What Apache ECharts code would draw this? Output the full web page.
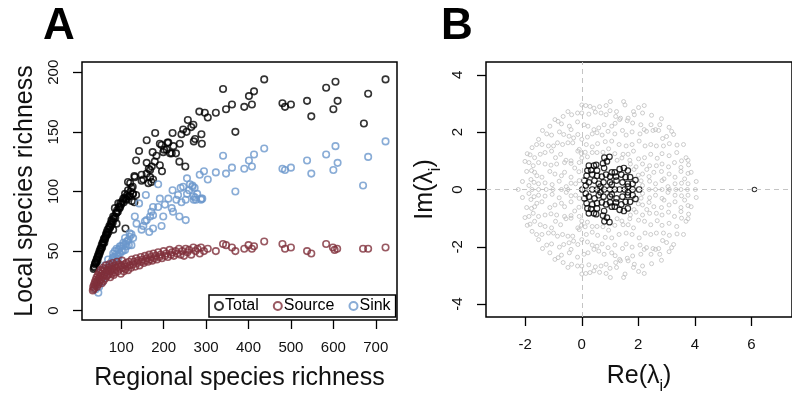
<!DOCTYPE html>
<html lang="en">
<head>
<meta charset="utf-8">
<script src="https://cdn.jsdelivr.net/npm/echarts@6/dist/echarts.min.js"></script>
<style>
  html, body { margin: 0; padding: 0; background: #fff; }
  #main { width: 792px; height: 400px; }
</style>
</head>
<body>
<div id="main"></div>
<script type="text/javascript">
    // panel A: [regional richness, local richness]
    var totalPts = [
        [723,194],[682,182],[672,157],[605,192],[583,187],[610,176],[600,169],[548,163],[538,176],[500,173],
        [486,171],[480,174],[437,194],[413,184],[401,180],[408,173],[390,171],[369,150],[361,173],[347,169],
        [340,186],[323,166],[304,162],[297,166],[284,167],[289,148],[290,140],[271,142],[274,144],[270,156],
        [265,154],[257,160],[254,150],[251,121],[246,152],[242,148],[238,140],[237,125],[229,132],[221,149],
        [223,138],[215,132],[209,141],[201,135],[195,139],[180,149],[183,130],[191,122],[196,117],[160,143],
        [142,134],[135,126],[160,124],[165,119],[171,108],[148,109],[131,113],[116,108],[127,104],[135,97],
        [131,91],[110,69],[174,133],[191,140],[211,141],[199,133],[207,135],[219,132],[179,125],[172,121],
        [168,118],[160,115],[168,112],[152,110],[175,110],[164,107],[132,112],[148,114],[121,107],[124,103],
        [116,101],[128,98],[120,96],[109,98],[113,93],[105,94],[93,90],[97,87],[85,86],[89,82],
        [81,79],[77,76],[89,73],[73,70],[81,68],
        [35,35],[36,37],[37,36],[38,39],[39,40],[40,41],[41,40],[42,43],[43,44],[44,42],
        [45,46],[46,45],[47,48],[48,47],[49,50],[50,49],[51,52],[52,51],[53,53],[54,55],
        [55,53],[56,57],[57,56],[58,58],[59,60],[60,57],[61,61],[62,60],[63,62],[64,64],
        [65,63],[66,66],[67,64],[68,68],[70,66],[71,69],[72,71],[74,70],[75,73],[77,72],
        [78,75],[80,74],[82,77],[84,79],[86,78],[88,82],[90,84],[92,83],[94,87],[96,86],
        [98,90],[100,89],[103,92],[106,91],[108,95],[111,94],[114,97],[118,96],[122,100],[125,92],[127,98]
    ];
    var sourcePts = [
        [723,53],[682,52],[670,52],[609,52],[603,51],[599,53],[583,56],[548,48],[538,50],[500,53],
        [486,52],[480,56],[437,58],[413,54],[408,52],[400,55],[390,52],[369,50],[361,53],[347,55],
        [340,56],[323,50],[304,52],[295,50],[288,53],
        [33,17],[34,20],[35,18],[36,22],[37,19],[38,24],[39,21],[40,26],[41,23],[42,28],
        [43,20],[44,25],[45,30],[46,22],[47,27],[48,32],[49,24],[50,29],[51,34],[52,26],
        [53,31],[54,23],[55,28],[56,33],[57,36],[58,25],[59,30],[60,35],[62,27],[63,32],
        [64,38],[66,29],[67,34],[68,30],[70,36],[71,31],[72,39],[74,28],[75,33],[76,37],
        [78,31],[79,35],[80,40],[82,30],[83,34],[85,38],[86,32],[88,36],[90,41],[92,33],
        [93,37],[95,39],[97,35],[99,31],[100,38],[102,42],[104,36],[106,33],[108,39],[110,35],
        [112,40],[114,37],[116,34],[118,41],[120,38],[123,36],[125,43],[128,39],[130,41],[133,37],
        [135,44],[138,40],[140,42],[143,38],[146,45],[148,41],[150,43],[153,40],[156,46],[158,42],
        [160,44],[163,41],[166,47],[168,43],[170,45],[173,42],[176,48],[178,44],[181,46],[184,43],
        [187,49],[190,45],[193,47],[196,44],[200,50],[203,46],[206,48],[210,45],[214,51],[217,47],
        [220,49],[224,46],[228,50],[232,48],[236,52],[240,47],[244,50],[248,46],[252,52],[256,49],
        [260,51],[265,47],[270,53],[275,50],[280,52],[285,48]
    ];
    var sinkPts = [
        [723,142],[682,129],[670,105],[605,138],[583,131],[610,124],[600,118],[548,115],[538,126],[500,120],
        [486,118],[480,119],[437,136],[413,131],[401,126],[408,121],[390,119],[369,100],[361,120],[347,115],
        [340,130],[323,116],[304,110],[295,117],[285,114],[288,93],[291,94],[271,93],[274,95],[268,104],
        [262,106],[255,111],[268,105],[246,104],[273,103],[279,98],[260,101],[270,96],[289,94],[276,93],
        [221,101],[240,103],[234,97],[255,98],[242,91],[252,93],[187,106],[191,94],[211,94],[203,89],
        [219,86],[230,93],[222,83],[237,79],[252,76],[158,97],[142,90],[175,87],[171,83],[187,87],
        [175,80],[168,79],[160,76],[156,75],[199,79],[195,71],[175,69],[166,66],[148,68],[132,79],
        [152,71],[136,73],[120,65],[128,61],[116,59],[105,57],[97,54],[89,52],[113,54],[124,55],
        [85,50],[97,48],[109,51],[81,45],[93,44],
        [46,15],[50,26],[58,29],[54,34],[62,38],[69,34],[69,43],[77,41],[81,48],[85,45],
        [93,51],[101,50],[105,55],[109,61],[124,64],[40,18],[44,22],[48,20],[52,26],[56,24],
        [60,30],[64,32],[68,36],[72,38],[76,40],[80,44],[84,42],[88,47],[92,46],[96,52],
        [100,54],[104,50],[110,56],[113,58],[118,55],[120,62]
    ];
    var xTicksA = [100, 200, 300, 400, 500, 600, 700];
    var yTicksA = [0, 50, 100, 150, 200];

    // panel B: eigenvalues, complex ones as [re, im] for the pair re +/- im*i
    var grayPairs = [
        [1.01,3.07],[1.48,3.07],[1.53,2.95],[0,2.95],[0.14,2.93],[0.29,2.90],[0.43,2.84],[0.63,2.89],[0.86,2.93],[1.0,2.75],
        [1.83,2.72],[2.01,2.86],[2.21,2.93],[-0.49,2.72],[-0.36,2.61],[-0.15,2.67],[0,2.67],[0.25,2.63],[0.48,2.70],[0.68,2.67],
        [0.86,2.61],[1.23,2.72],[1.37,2.49],[1.64,2.49],[1.86,2.61],[2.15,2.67],[2.47,2.59],[2.82,2.47],[-0.66,2.55],[-0.84,2.38],
        [-0.95,2.44],[-1.13,2.21],[-0.72,2.29],[-0.44,2.21],[-0.38,2.09],[-0.15,2.36],[0.08,2.26],[0.22,2.21],[0.43,2.09],[0.60,2.15],
        [0.79,2.26],[1.06,2.21],[1.18,2.31],[1.34,2.44],[1.61,2.40],[1.80,2.32],[2.09,2.26],[2.21,2.09],[2.45,2.26],[2.61,2.09],
        [2.76,2.26],[3.09,2.17],[3.18,2.03],[-1.39,2.06],[-1.24,1.94],[-1.07,1.90],[-0.79,2.01],[-0.64,1.92],[-0.45,1.86],[-0.29,1.80],
        [-0.14,1.92],[0,1.75],[0.20,1.83],[0.37,1.94],[0.54,1.98],[0.72,1.90],[0.93,2.03],[1.17,1.94],[1.44,2.06],[1.57,1.90],
        [1.78,2.01],[2.06,1.94],[2.29,2.03],[2.52,2.06],[2.72,2.06],[2.86,1.78],[3.0,1.85],[3.25,1.92],[-1.53,1.75],[-1.76,1.46],
        [-1.60,1.57],[-1.41,1.57],[-1.18,1.52],[-1.0,1.52],[-0.86,1.63],[-0.68,1.57],[-0.49,1.63],[-0.32,1.63],[-0.09,1.40],[0.16,1.57],
        [0.37,1.49],[0.56,1.60],[0.83,1.67],[1.06,1.69],[1.32,1.57],[1.57,1.52],[1.78,1.57],[2.03,1.69],[2.24,1.52],[2.44,1.57],
        [2.64,1.52],[2.89,1.52],[3.10,1.60],[3.37,1.55],[3.60,1.57],[-1.93,1.25],[-1.83,1.21],[-1.67,1.11],[-1.47,1.23],[-1.30,1.29],
        [-1.07,1.34],[-0.93,1.11],[-0.75,1.23],[-0.56,1.02],[-0.38,1.0],[-0.14,1.34],[-0.01,1.25],[0.20,1.14],[0.37,1.29],[0.54,1.29],
        [1.17,1.25],[1.46,1.23],[1.64,1.23],[1.83,1.34],[2.01,1.07],[2.22,1.11],[2.44,1.23],[2.67,1.09],[2.84,1.25],[3.09,1.18],
        [3.36,1.29],[3.69,1.11],[3.76,1.02],[-2.01,0.98],[-1.87,0.94],[-1.72,0.83],[-1.53,0.94],[-1.30,0.89],[-1.09,0.85],[-0.89,0.89],
        [-0.61,0.94],[-0.38,0.91],[-0.09,0.94],[1.72,0.89],[1.92,0.79],[2.15,0.89],[2.40,0.83],[2.64,0.83],[2.84,0.89],[3.07,0.79],
        [3.28,0.94],[3.51,0.77],[3.78,0.86],[3.53,1.0],[-1.95,0.63],[-1.78,0.66],[-1.67,0.60],[-1.59,0.48],[-1.41,0.43],[-1.13,0.63],
        [-0.95,0.54],[-0.72,0.48],[-0.61,0.60],[-0.38,0.43],[2.15,0.54],[2.38,0.45],[2.55,0.60],[2.82,0.63],[2.91,0.37],[3.09,0.54],
        [3.30,0.43],[3.51,0.63],[3.76,0.56],[3.87,0.60],[3.64,0.37],[-2.10,0.28],[-1.87,0.14],[-1.69,0.25],[-1.53,0.20],[-1.30,0.23],
        [-1.05,0.17],[-0.80,0.29],[-0.55,0.10],[-0.38,0.22],[-0.09,0.31],[2.15,0.14],[2.40,0.29],[2.61,0.20],[2.84,0.31],[3.05,0.10],
        [3.30,0.20],[3.53,0.22],[3.76,0.20],[4.05,0.28],[0.0,1.10],[0.12,1.30],[1.25,1.02],[1.42,1.10],[1.70,1.02],[1.85,0.70],
        [2.0,0.50],[2.10,0.30],[-0.10,0.62],[-0.22,0.20],[0.75,1.30],[0.95,1.42],[-0.25,0.75],[2.3,0.7],[1.2,2.55],[-1.8,0.35]
    ];
    var grayReal = [-2.25, -1.76, -1.53, -1.26, -1.02, -0.72, -0.49, 2.38, 2.61, 2.84, 3.10, 3.33, 3.51, 3.74, 4.02];
    var blackPairs = [
        [0.80,1.11],[0.98,1.14],[0.89,0.98],[0.75,0.91],[0.51,0.86],[0.25,0.83],[0.43,0.83],[0.20,0.66],[0.33,0.68],[0.54,0.66],
        [0.79,0.75],[1.06,0.60],[1.17,0.60],[1.34,0.71],[1.49,0.75],[1.63,0.66],[1.40,0.52],[1.21,0.45],[1.00,0.45],[0.86,0.52],
        [0.71,0.45],[0.54,0.48],[0.37,0.52],[0.17,0.48],[0.10,0.31],[0.25,0.25],[0.45,0.31],[0.60,0.20],[0.77,0.25],[1.00,0.25],
        [1.23,0.31],[1.44,0.25],[1.63,0.20],[1.80,0.20],[1.90,0.33],[1.71,0.43],[1.55,0.43],[0.14,0.14],[1.06,0.17],[0.66,0.10],
        [1.63,0.10]
    ];
    var blackReal = [0.02, 0.37, 0.54, 0.79, 1.0, 1.17, 1.34, 1.52, 1.80, 2.03];
    var outlierReal = [6.11];
    var xTicksB = [-2, 0, 2, 4, 6];
    var yTicksB = [-4, -2, 0, 2, 4];

    var FONT = "'Liberation Sans', Arial, sans-serif";
    var cTotal = '#000000', cSource = '#7f2f3b', cSink = '#6b97cc', cGray = '#b9b9b9';

    function eig(pairs, reals) {
        var out = [];
        pairs.forEach(function (p) { out.push([p[0], p[1]]); out.push([p[0], -p[1]]); });
        reals.forEach(function (r) { out.push([r, 0]); });
        return out;
    }

    function ring(color, size, bw) {
        return {
            symbol: 'circle', symbolSize: size,
            itemStyle: { color: 'rgba(0,0,0,0)', borderColor: color, borderWidth: bw }
        };
    }

    var tickStyle = { lineStyle: { color: '#000', width: 1.3 }, length: 9, inside: false };
    var labelFont = { fontFamily: FONT, fontSize: 15, color: '#111' };
    var noLine = { show: false, onZero: false };
    var subRich = {
        a: { fontFamily: FONT, fontSize: 25, color: '#111', lineHeight: 30, verticalAlign: 'middle' },
        s: { fontFamily: FONT, fontSize: 16, color: '#111', lineHeight: 30, verticalAlign: 'bottom', padding: [0, 0, -4, 0] }
    };

    var myChart = echarts.init(document.getElementById('main'), null, { renderer: 'canvas' });

    var option = {
        animation: false,
        backgroundColor: '#fff',
        title: [
            { text: 'A', left: 38, top: 0, textStyle: { fontFamily: FONT, fontSize: 44, fontWeight: 'bold', color: '#000' } },
            { text: 'B', left: 436, top: 0, textStyle: { fontFamily: FONT, fontSize: 44, fontWeight: 'bold', color: '#000' } }
        ],
        legend: {
            data: ['Total', 'Source', 'Sink'],
            left: 209, top: 295,
            padding: [3, 5, 3, 5],
            itemGap: 14, itemWidth: 8, itemHeight: 8,
            borderColor: '#000', borderWidth: 1.5,
            backgroundColor: '#fff',
            textStyle: { fontFamily: FONT, fontSize: 16, color: '#000', padding: [0, 0, 0, -3] }
        },
        grid: [
            { left: 82, top: 62, width: 315, height: 258, show: true, borderColor: '#000', borderWidth: 1.5, backgroundColor: 'transparent' },
            { left: 486, top: 62, width: 314, height: 258, show: true, borderColor: '#000', borderWidth: 1.5, backgroundColor: 'transparent' }
        ],
        xAxis: [
            {
                gridIndex: 0, type: 'value', min: 7.5, max: 750,
                axisLine: noLine, splitLine: { show: false },
                axisTick: Object.assign({ customValues: xTicksA }, tickStyle),
                axisLabel: Object.assign({ customValues: xTicksA, margin: 20 }, labelFont),
                name: 'Regional species richness', nameLocation: 'middle', nameGap: 46,
                nameTextStyle: { fontFamily: FONT, fontSize: 25, color: '#111' }
            },
            {
                gridIndex: 1, type: 'value', min: -3.39, max: 7.44,
                axisLine: noLine, splitLine: { show: false },
                axisTick: Object.assign({ customValues: xTicksB }, tickStyle),
                axisLabel: Object.assign({ customValues: xTicksB, margin: 20 }, labelFont),
                name: '{a|Re(λ}{s|i}{a|)}', nameLocation: 'middle', nameGap: 44,
                nameTextStyle: { rich: subRich }
            }
        ],
        yAxis: [
            {
                gridIndex: 0, type: 'value', min: -7.8, max: 208.6,
                axisLine: noLine, splitLine: { show: false },
                axisTick: Object.assign({ customValues: yTicksA }, tickStyle),
                axisLabel: Object.assign({ customValues: yTicksA, margin: 21, rotate: 90 }, labelFont),
                name: 'Local species richness', nameLocation: 'middle', nameGap: 44,
                nameTextStyle: { fontFamily: FONT, fontSize: 25, color: '#111' }
            },
            {
                gridIndex: 1, type: 'value', min: -4.45, max: 4.45,
                axisLine: noLine, splitLine: { show: false },
                axisTick: Object.assign({ customValues: yTicksB }, tickStyle),
                axisLabel: Object.assign({ customValues: yTicksB, margin: 21, rotate: 90 }, labelFont),
                name: '{a|Im(λ}{s|i}{a|)}', nameLocation: 'middle', nameGap: 46,
                nameTextStyle: { rich: subRich }
            }
        ],
        series: [
            Object.assign({ name: 'Total', type: 'scatter', xAxisIndex: 0, yAxisIndex: 0, data: totalPts, z: 2 }, ring(cTotal, 6.5, 1.6)),
            Object.assign({ name: 'Sink', type: 'scatter', xAxisIndex: 0, yAxisIndex: 0, data: sinkPts, z: 3 }, ring(cSink, 6.5, 1.6)),
            Object.assign({ name: 'Source', type: 'scatter', xAxisIndex: 0, yAxisIndex: 0, data: sourcePts, z: 4 }, ring(cSource, 6.5, 1.6)),
            Object.assign({
                name: 'gray', type: 'scatter', xAxisIndex: 1, yAxisIndex: 1, data: eig(grayPairs, grayReal), z: 2,
                markLine: {
                    silent: true, symbol: 'none', label: { show: false },
                    lineStyle: { color: '#c4c4c4', type: [5, 4], width: 1 },
                    data: [{ xAxis: 0 }, { yAxis: 0 }]
                }
            }, ring(cGray, 4, 0.9)),
            Object.assign({ name: 'black', type: 'scatter', xAxisIndex: 1, yAxisIndex: 1, data: eig(blackPairs, blackReal), z: 3 }, ring('#000', 5.5, 1.2)),
            Object.assign({ name: 'outlier', type: 'scatter', xAxisIndex: 1, yAxisIndex: 1, data: eig([], outlierReal), z: 3 }, ring('#000', 4.5, 1.1))
        ]
    };

    myChart.setOption(option);
</script>
</body>
</html>
